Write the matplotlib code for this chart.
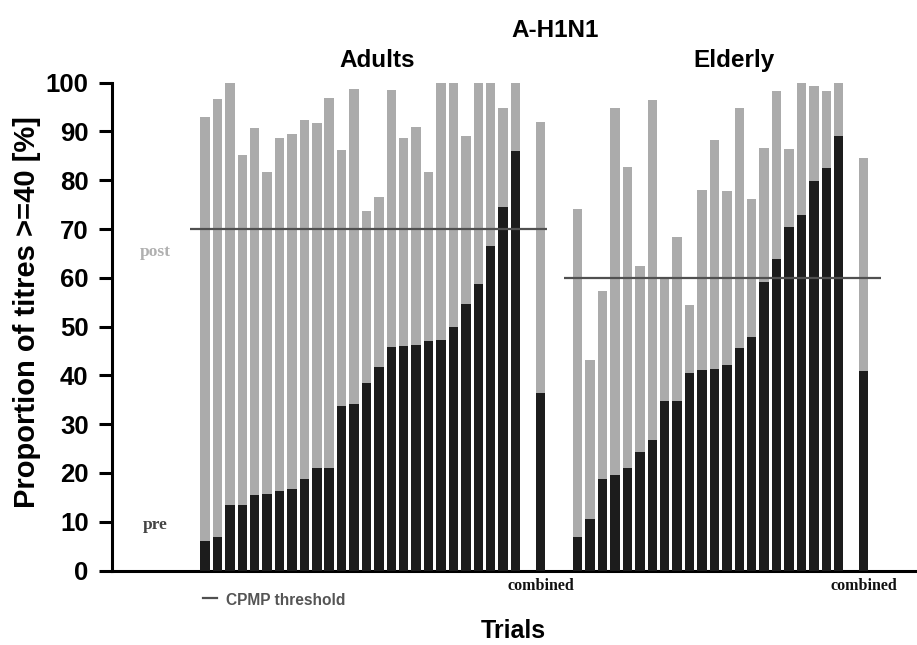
import numpy as np
import matplotlib
matplotlib.use("Agg")
import matplotlib.pyplot as plt
import matplotlib.transforms as mtransforms

# valores (% títulos >= 40)
adultos_pre = [6.0, 6.9, 13.4, 13.4, 15.4, 15.6, 16.3, 16.8, 18.8, 21.0, 21.0, 33.7, 34.2,
               38.5, 41.7, 45.8, 46.1, 46.2, 47.0, 47.3, 50.0, 54.7, 58.7, 66.6, 74.5, 86.1]
adultos_pos = [92.9, 96.7, 100, 85.1, 90.8, 81.7, 88.7, 89.5, 92.4, 91.7, 96.9, 86.2, 98.8,
               73.8, 76.6, 98.6, 88.7, 90.9, 81.7, 100, 100, 89.0, 100, 100, 94.9, 100]
adultos_comb_pre = 36.4
adultos_comb_pos = 91.9

idosos_pre = [6.9, 10.5, 18.8, 19.5, 21.0, 24.2, 26.8, 34.7, 34.7, 40.4, 41.1, 41.3,
              42.2, 45.6, 47.8, 59.2, 63.9, 70.4, 72.8, 79.8, 82.5, 89.0]
idosos_pos = [74.1, 43.1, 57.4, 94.9, 82.7, 62.4, 96.5, 60.2, 68.3, 54.4, 78.1, 88.2,
              77.7, 94.9, 76.2, 86.6, 98.2, 86.4, 100, 99.3, 98.4, 100]
idosos_comb_pre = 41.0
idosos_comb_pos = 84.5

limiar_adultos = 70
limiar_idosos = 60

cinza = '#ababab'
preto = '#1c1c1c'

# posições no eixo x
x_ad = np.arange(len(adultos_pre))
x_ad_comb = len(adultos_pre) + 1
x_id = np.arange(len(idosos_pre)) + x_ad_comb + 3
x_id_comb = x_id[-1] + 2

fig = plt.figure(figsize=(9.17, 6.45), dpi=100)
W, H = 917, 645
ax = fig.add_axes([111.5 / W, 1 - 570.5 / H, 1 - 111.5 / W, (570.5 - 82.7) / H])

largura = 0.76
ax.bar(x_ad, adultos_pos, width=largura, color=cinza, zorder=2)
ax.bar(x_ad, adultos_pre, width=largura, color=preto, zorder=3)
ax.bar([x_ad_comb], [adultos_comb_pos], width=largura, color=cinza, zorder=2)
ax.bar([x_ad_comb], [adultos_comb_pre], width=largura, color=preto, zorder=3)
ax.bar(x_id, idosos_pos, width=largura, color=cinza, zorder=2)
ax.bar(x_id, idosos_pre, width=largura, color=preto, zorder=3)
ax.bar([x_id_comb], [idosos_comb_pos], width=largura, color=cinza, zorder=2)
ax.bar([x_id_comb], [idosos_comb_pre], width=largura, color=preto, zorder=3)

# linhas CPMP
ax.hlines(limiar_adultos, -1.2, x_ad_comb + 0.5, color='#505050', lw=1.6, zorder=4)
ax.hlines(limiar_idosos, x_id[0] - 1.1, x_id_comb + 1.4, color='#505050', lw=1.6, zorder=4)

ax.set_xlim(-7.52, 57.3)
ax.set_ylim(0, 100)
ax.set_yticks(np.arange(0, 101, 10))
ax.set_xticks([])
for s in ['top', 'right']:
    ax.spines[s].set_visible(False)
for s in ['left', 'bottom']:
    ax.spines[s].set_linewidth(2.2)
ax.tick_params(axis='y', direction='out', length=9.5, width=2.2, pad=7,
               labelsize=18.5)
for t in ax.get_yticklabels():
    t.set_fontfamily('Liberation Sans')
    t.set_fontweight('bold')

# "combined" sob as barras combinadas
trans = mtransforms.blended_transform_factory(ax.transData, fig.transFigure)
for xc in [x_ad_comb, x_id_comb]:
    ax.text(xc, 1 - 590 / H, 'combined', transform=trans, ha='center', va='baseline',
            fontsize=11.5, fontweight='bold', family='Liberation Serif', color='#111111')

def ftext(x, y, s, **kw):
    fig.text(x / W, 1 - y / H, s, **kw)

ftext(555, 37, 'A-H1N1', ha='center', va='baseline', fontsize=17.5,
      fontweight='bold', family='Liberation Sans')
ftext(377, 67, 'Adults', ha='center', va='baseline', fontsize=17.5,
      fontweight='bold', family='Liberation Sans')
ftext(734, 67, 'Elderly', ha='center', va='baseline', fontsize=17.5,
      fontweight='bold', family='Liberation Sans')
ftext(513, 638, 'Trials', ha='center', va='baseline', fontsize=18,
      fontweight='bold', family='Liberation Sans')
ftext(27, 312, 'Proportion of titres >=40 [%]', ha='center', va='center',
      rotation=90, fontsize=21, fontweight='bold', family='Liberation Sans')
ftext(155, 256, 'post', ha='center', va='baseline', fontsize=12.5,
      fontweight='bold', family='Liberation Serif', color='#b0b0b0')
ftext(155, 529, 'pre', ha='center', va='baseline', fontsize=12.5,
      fontweight='bold', family='Liberation Serif', color='#444444')

# legenda CPMP
fig.add_artist(plt.Line2D([203 / W, 217 / W], [1 - 598 / H, 1 - 598 / H],
                          color='#505050', lw=1.6))
ftext(226, 605, 'CPMP threshold', ha='left', va='baseline', fontsize=11.2,
      fontweight='bold', family='Liberation Sans', color='#555555')

fig.savefig('out.png', dpi=100)
